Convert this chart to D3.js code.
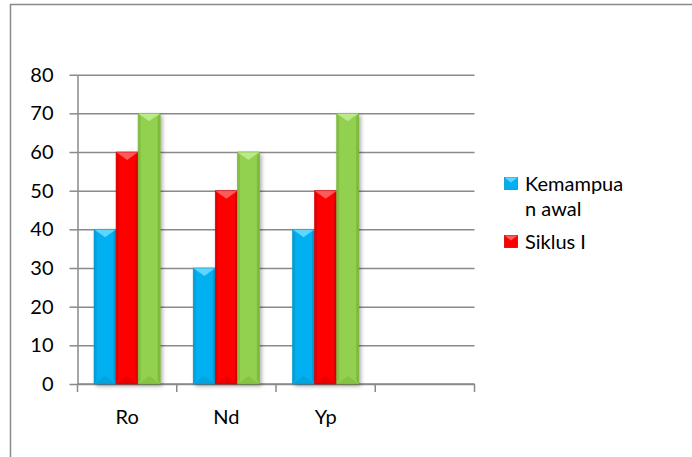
<!DOCTYPE html>
<html>
<head>
<meta charset="utf-8">
<script src="https://cdn.jsdelivr.net/npm/d3@7"></script>
<style>
  html, body { margin: 0; padding: 0; background: #fff; }
  svg { display: block; }
  text { font-family: Lato, "Open Sans", sans-serif; fill: #000; }
</style>
</head>
<body>
<svg id="chart" width="692" height="457"></svg>
<script>
// Scores per student
const categories = ["Ro", "Nd", "Yp", ""];
const seriesNames = ["Kemampuan awal", "Siklus I", "Siklus II"];
const kemampuanAwal = [40, 30, 40, null];
const siklusI = [60, 50, 50, null];
const siklusII = [70, 60, 70, null];
const yTicks = [0, 10, 20, 30, 40, 50, 60, 70, 80];

const seriesValues = [kemampuanAwal, siklusI, siklusII];
const fills = ["#00B0F0", "#FF0000", "#92D050"];
const lights = ["#5fd6ff", "#ff5a5a", "#bce98a"];
const darks = ["#0795c8", "#cf0000", "#78b43a"];
const gridColor = "#8a8a8a";

const svg = d3.select("#chart");

// chart frame (only top and left edges fall inside the page)
svg.append("path")
  .attr("d", "M10.5,457 V4.5 H692")
  .attr("fill", "none").attr("stroke", gridColor).attr("stroke-width", 1.5);

const plot = { left: 77.5, right: 474.5, top: 74.7, bottom: 384 };

const x = d3.scaleBand().domain(categories).range([plot.left, plot.right]);
const xs = d3.scaleBand().domain(d3.range(seriesNames.length))
  .range([0, x.bandwidth()]).paddingInner(0).paddingOuter(0.75);
const y = d3.scaleLinear().domain([0, 80]).range([plot.bottom, plot.top]);

// drop shadow for bars
const defs = svg.append("defs");
const f = defs.append("filter").attr("id", "shadow")
  .attr("x", "-30%").attr("y", "-10%").attr("width", "160%").attr("height", "130%");
f.append("feDropShadow").attr("dx", 2).attr("dy", 2).attr("stdDeviation", 2)
  .attr("flood-color", "#000").attr("flood-opacity", 0.35);

// gridlines
svg.append("g")
  .attr("transform", `translate(${plot.left},0)`)
  .call(d3.axisLeft(y).tickValues(yTicks).tickSizeInner(-(plot.right - plot.left)).tickSizeOuter(0).tickFormat(""))
  .call(g => g.select(".domain").remove())
  .call(g => g.selectAll("line").attr("stroke", gridColor).attr("stroke-width", 1.5));

// y axis with labels
svg.append("g")
  .attr("transform", `translate(${plot.left},0)`)
  .call(d3.axisLeft(y).tickValues(yTicks).tickSizeInner(8).tickSizeOuter(0).tickPadding(16))
  .call(g => g.select(".domain").attr("stroke", gridColor).attr("stroke-width", 1.5))
  .call(g => g.selectAll("line").attr("stroke", gridColor).attr("stroke-width", 1.5))
  .call(g => g.selectAll("text").attr("font-size", 20).attr("font-family", "Lato, sans-serif").attr("fill", "#000"));

// x axis baseline and category boundary ticks
const xAxis = svg.append("g").attr("transform", `translate(0,${plot.bottom})`);
xAxis.append("line")
  .attr("x1", plot.left).attr("x2", plot.right)
  .attr("stroke", gridColor).attr("stroke-width", 1.5);
const bounds = categories.map(c => x(c)).concat([x(categories[categories.length - 1]) + x.bandwidth()]);
xAxis.selectAll("line.tk").data(bounds).join("line").attr("class", "tk")
  .attr("x1", d => d).attr("x2", d => d).attr("y1", 0).attr("y2", 8)
  .attr("stroke", gridColor).attr("stroke-width", 1.5);
xAxis.selectAll("text.cat").data(categories).join("text").attr("class", "cat")
  .attr("x", d => x(d) + x.bandwidth() / 2).attr("y", 40)
  .attr("text-anchor", "middle").attr("font-size", 20).text(d => d);

// bars with bevelled edges
const bars = [];
seriesValues.forEach((vals, s) => {
  vals.forEach((v, i) => {
    if (v == null) return;
    bars.push({ s, cat: categories[i], v });
  });
});

const barG = svg.append("g");
const bar = barG.selectAll("g.bar").data(bars).join("g").attr("class", "bar");

bar.each(function (d) {
  const g = d3.select(this);
  const x0 = x(d.cat) + xs(d.s);
  const w = xs.bandwidth();
  const y0 = y(d.v);
  const y1 = y(0);
  const b = 8;   // bevel depth
  const e = 2.5; // side edge width
  g.append("rect").attr("x", x0).attr("y", y0).attr("width", w).attr("height", y1 - y0)
    .attr("fill", fills[d.s]).attr("filter", "url(#shadow)");
  // left and right edges
  g.append("path").attr("d", `M${x0},${y0} L${x0 + e},${y0 + b / 2} L${x0 + e},${y1 - b / 2} L${x0},${y1} Z`)
    .attr("fill", darks[d.s]).attr("opacity", 0.6);
  g.append("path").attr("d", `M${x0 + w},${y0} L${x0 + w - e},${y0 + b / 2} L${x0 + w - e},${y1 - b / 2} L${x0 + w},${y1} Z`)
    .attr("fill", darks[d.s]).attr("opacity", 0.8);
  // top highlight chevron
  g.append("path").attr("d", `M${x0},${y0} L${x0 + w},${y0} L${x0 + w / 2},${y0 + b} Z`)
    .attr("fill", lights[d.s]);
  // bottom chevron
  g.append("path").attr("d", `M${x0},${y1} L${x0 + w},${y1} L${x0 + w / 2},${y1 - b} Z`)
    .attr("fill", darks[d.s]).attr("opacity", 0.45);
  g.append("rect").attr("x", x0).attr("y", y0).attr("width", w).attr("height", y1 - y0)
    .attr("fill", "none").attr("stroke", darks[d.s]).attr("stroke-width", 0.8).attr("opacity", 0.7);
});

// legend (first two entries fit inside the frame)
const legend = [
  { s: 0, lines: ["Kemampua", "n awal"], y: 177.5 },
  { s: 1, lines: ["Siklus I"], y: 235.5 }
];
const lg = svg.append("g");
legend.forEach(L => {
  const kx = 504.5, kw = 13, kh = 12;
  lg.append("rect").attr("x", kx).attr("y", L.y).attr("width", kw).attr("height", kh)
    .attr("fill", fills[L.s]).attr("stroke", darks[L.s]).attr("stroke-width", 0.8);
  lg.append("path").attr("d", `M${kx},${L.y} L${kx + kw},${L.y} L${kx + kw / 2},${L.y + 5} Z`)
    .attr("fill", lights[L.s]);
  const t = lg.append("text").attr("x", 525).attr("y", L.y + 13).attr("font-size", 20);
  L.lines.forEach((ln, k) => {
    t.append("tspan").attr("x", 525).attr("dy", k === 0 ? 0 : 25).text(ln);
  });
});
</script>
</body>
</html>
